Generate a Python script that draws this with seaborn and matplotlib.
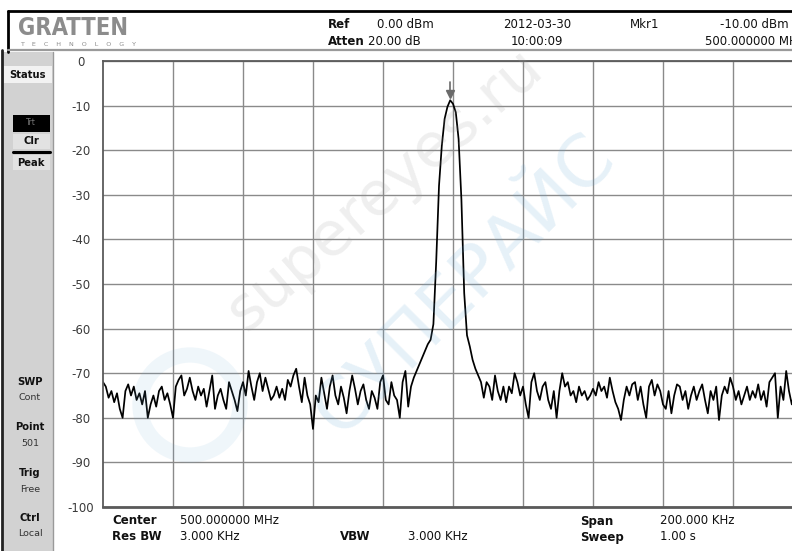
import numpy as np
import pandas as pd
import matplotlib
matplotlib.use("Agg")
import matplotlib.pyplot as plt
import seaborn as sns
from matplotlib.patches import Rectangle, Circle
from matplotlib.lines import Line2D

span_khz = [-100.0, 100.0]          # 200 kHz span around 500 MHz
n_points = 251
level_dbm = [
    -72, -73, -75.5, -74, -76.5, -74.5, -78, -80, -74, -72.5,
    -75, -73, -76, -74.5, -77, -74, -80, -77, -75, -77.5,
    -74, -73, -76, -74.5, -77, -80, -73, -71.5, -70.5, -75,
    -73.5, -71, -74, -76, -73, -75, -73.5, -77.5, -74, -70.5,
    -78, -75, -73.5, -76, -78, -72, -74, -76, -78.5, -74,
    -72, -75, -69.5, -73, -76, -72, -70, -74, -71, -73.5,
    -76, -75, -73, -75.5, -73.5, -76, -71.5, -73, -70.5, -69,
    -73, -76.5, -71, -75, -77, -82.5, -75, -76.5, -71, -74.5,
    -78, -73, -70.5, -75, -77, -73, -75.5, -79, -74, -70.5,
    -73.5, -77, -74, -72.5, -76, -78, -74, -75.5, -78, -72,
    -70.5, -76, -77, -72, -75, -76, -80, -72, -69.5, -77.5,
    -73, -71, -69.5, -68, -66.5, -65, -63.5, -62.5, -59, -45,
    -28, -19, -13, -10.3, -8.8, -9.6, -11.5, -17.5, -31, -52,
    -61.5, -64, -67, -69, -70.5, -72, -75.5, -72, -73, -76,
    -70.5, -74, -76, -73, -76.5, -73, -74.5, -70, -72, -75,
    -73, -77, -80, -72, -70, -74, -76, -73, -72, -76,
    -78, -74, -80, -74, -70, -73, -72, -75, -74, -76.5,
    -73, -75, -74, -76, -75, -73.5, -75, -72, -74, -73,
    -75.5, -71, -74, -76.5, -78, -80.5, -76, -73, -75, -72.5,
    -72, -76, -73, -77, -80, -73, -71.5, -75, -72.5, -74,
    -77, -78, -74, -79, -75, -72.5, -73, -76, -74, -78,
    -75, -73, -76, -74, -72.5, -76, -79, -74, -76, -73,
    -80.5, -75, -73, -74.5, -71, -73, -76, -74, -77, -75,
    -73, -76, -74, -75.5, -72.5, -76, -74, -77.5, -72, -71,
    -70, -80, -73, -76, -69.5, -74, -77, -74, -75, -73,
    -76,
]
freq_khz = np.linspace(span_khz[0], span_khz[1], n_points)
marker_khz = -0.8
marker_dbm = -8.8
y_ticks = [0, -10, -20, -30, -40, -50, -60, -70, -80, -90, -100]
y_tick_labels = ["0", "-10", "-20", "-30", "-40", "-50", "-60", "-70", "-80", "-90", "-100"]
x_grid = [-80, -60, -40, -20, 0, 20, 40, 60, 80]

df = pd.DataFrame({"freq": freq_khz, "level": level_dbm})

# ---------------- figure ----------------
sns.set_style("white")
plt.rcParams["font.family"] = ["DejaVu Sans"]
W, H = 792, 551
fig = plt.figure(figsize=(W / 100, H / 100), dpi=100)
fig.patch.set_facecolor("white")


def fx(x):
    return x / W


def fy(y):
    return 1 - y / H


ax = fig.add_axes([fx(103), fy(507), 700 / W, 446 / H])
ax.set_xlim(span_khz)
ax.set_ylim(-100, 0)
ax.set_xticks(x_grid)
ax.set_xticklabels([])
ax.set_yticks(y_ticks)
ax.set_yticklabels(y_tick_labels)
ax.grid(True, color="#8a8a8a", lw=1.0)
ax.set_axisbelow(True)
ax.tick_params(axis="both", length=0)
ax.tick_params(axis="y", pad=15.8, labelsize=8.5, labelcolor="#3a3a3a")
for lab in ax.get_yticklabels():
    lab.set_ha("center")
for s in ["left", "top", "bottom"]:
    ax.spines[s].set_color("#5a5a5a")
    ax.spines[s].set_linewidth(1.3)
ax.spines["bottom"].set_linewidth(2.0)
ax.spines["right"].set_visible(False)

sns.lineplot(data=df, x="freq", y="level", ax=ax, color="black", lw=1.25, legend=False)
ax.set_xlabel("")
ax.set_ylabel("")
# marker
ax.plot([marker_khz], [marker_dbm + 1.4], marker="v", color="#6a6a6a", ms=6, zorder=5)
ax.plot([marker_khz, marker_khz], [marker_dbm + 2.2, marker_dbm + 4.0], color="#6a6a6a", lw=1.2, zorder=5)

# ---------------- frame & sidebar ----------------
def frect(x0, y0, x1, y1, **kw):
    fig.add_artist(Rectangle((fx(x0), fy(y1)), (x1 - x0) / W, (y1 - y0) / H,
                             transform=fig.transFigure, **kw))


def fline(x0, y0, x1, y1, **kw):
    fig.add_artist(Line2D([fx(x0), fx(x1)], [fy(y0), fy(y1)], transform=fig.transFigure, **kw))


# top frame line and header separator
fline(8, 11, 792, 11, color="black", lw=2.0)
fline(8, 11, 8, 52, color="black", lw=2.0)
fline(8, 50, 792, 50, color="#9a9a9a", lw=1.6)
# sidebar
frect(2, 52, 53, 551, facecolor="#d2d2d2", edgecolor="none")
fline(2, 50, 2, 551, color="#222222", lw=2.0)
fline(53, 52, 53, 551, color="#9a9a9a", lw=1.0)
frect(4, 66, 52, 83, facecolor="#f2f2f2", edgecolor="none")
frect(13, 115, 50, 132, facecolor="black", edgecolor="none")
frect(13, 134, 50, 149, facecolor="#e2e2e2", edgecolor="none")
fline(13, 152, 50, 152, color="black", lw=2.2)
frect(13, 155, 50, 170, facecolor="#e2e2e2", edgecolor="none")

side = dict(ha="center", va="center", fontsize=7.2, color="#111111")
fig.text(fx(28), fy(75), "Status", fontweight="bold", **side)
fig.text(fx(31), fy(123), "Trt", ha="center", va="center", fontsize=5.5, color="#777777")
fig.text(fx(31), fy(141), "Clr", fontweight="bold", **side)
fig.text(fx(31), fy(163), "Peak", fontweight="bold", **side)
for label, value, y in [("SWP", "Cont", 382), ("Point", "501", 427),
                        ("Trig", "Free", 473), ("Ctrl", "Local", 518)]:
    fig.text(fx(30), fy(y), label, fontweight="bold", **side)
    fig.text(fx(30), fy(y + 16), value, ha="center", va="center", fontsize=6.8, color="#333333")

# logo
fig.text(fx(18), fy(28), "GRATTEN", ha="left", va="center", fontsize=17, fontweight="bold",
         color="#8c8c8c", fontstretch="condensed")
fig.text(fx(20), fy(44), "T    E    C    H    N    O    L    O    G    Y", ha="left", va="center",
         fontsize=4.6, color="#8c8c8c")

# header texts
hdr = dict(va="center", fontsize=8.5, color="#111111")
fig.text(fx(328), fy(24), "Ref", fontweight="bold", ha="left", **hdr)
fig.text(fx(377), fy(24), "0.00 dBm", ha="left", **hdr)
fig.text(fx(328), fy(41), "Atten", fontweight="bold", ha="left", **hdr)
fig.text(fx(368), fy(41), "20.00 dB", ha="left", **hdr)
fig.text(fx(537), fy(24), "2012-03-30", ha="center", **hdr)
fig.text(fx(537), fy(41), "10:00:09", ha="center", **hdr)
fig.text(fx(630), fy(24), "Mkr1", ha="left", **hdr)
fig.text(fx(720), fy(24), "-10.00 dBm", ha="left", **hdr)
fig.text(fx(705), fy(41), "500.000000 MHz", ha="left", **hdr)

# footer texts
ft = dict(va="center", fontsize=8.5, color="#111111")
fig.text(fx(112), fy(521), "Center", fontweight="bold", ha="left", **ft)
fig.text(fx(180), fy(521), "500.000000 MHz", ha="left", **ft)
fig.text(fx(112), fy(537), "Res BW", fontweight="bold", ha="left", **ft)
fig.text(fx(180), fy(537), "3.000 KHz", ha="left", **ft)
fig.text(fx(340), fy(537), "VBW", fontweight="bold", ha="left", **ft)
fig.text(fx(408), fy(537), "3.000 KHz", ha="left", **ft)
fig.text(fx(580), fy(521), "Span", fontweight="bold", ha="left", **ft)
fig.text(fx(660), fy(521), "200.000 KHz", ha="left", **ft)
fig.text(fx(580), fy(537), "Sweep", fontweight="bold", ha="left", **ft)
fig.text(fx(660), fy(537), "1.00 s", ha="left", **ft)

# watermarks
fig.text(fx(385), fy(190), "supereyes.ru", ha="center", va="center", rotation=41,
         fontsize=44, color="#9a9a9a", alpha=0.16, zorder=10)
fig.text(fx(465), fy(285), "СУПЕРАЙС", ha="center", va="center", rotation=45,
         fontsize=52, color="#6aaad6", alpha=0.17, zorder=10)
fig.add_artist(Circle((1.90, (H - 405) / 100), 0.5, transform=fig.dpi_scale_trans, fill=False,
                      lw=11, edgecolor="#6aaad6", alpha=0.10, zorder=10))

fig.savefig("out.png", dpi=100)
